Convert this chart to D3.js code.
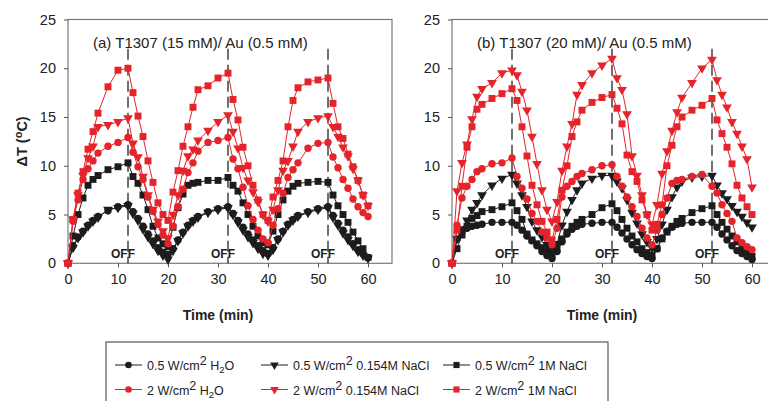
<!DOCTYPE html>
<html>
<head>
<meta charset="utf-8">
<script src="https://cdn.jsdelivr.net/npm/d3@7"></script>
<style>
body { margin: 0; background: #fff; }
text { font-family: "Liberation Sans", Arial, sans-serif; fill: #222; }
</style>
</head>
<body>
<svg id="chart" width="768" height="401"></svg>
<script>
// sampling times (min), shared by every series
var time = [0, 1, 2, 3, 4, 5, 6, 8, 10, 12, 13, 14, 15, 16, 17, 18, 19, 20,
  21, 22, 23, 24, 25, 26, 28, 30, 32, 33, 34, 35, 36, 37, 38, 39, 40,
  41, 42, 43, 44, 45, 46, 48, 50, 52, 53, 54, 55, 56, 57, 58, 59, 60];

var xTicks = [0, 10, 20, 30, 40, 50, 60];
var yTicks = [0, 5, 10, 15, 20, 25];
var offTimes = [12, 32, 52];

// panel (a) T1307 (15 mM)/ Au (0.5 mM)
var a_05_h2o = [0,
  1.8, 2.7, 3.3, 3.9, 4.4, 4.8, 5.4, 5.8, 6.0,
  5.3, 4.6, 3.8, 3.0, 2.3, 1.6, 1.1, 0.9,
  1.5, 2.4, 3.2, 3.9, 4.4, 4.8, 5.3, 5.6, 5.8,
  5.1, 4.4, 3.7, 3.0, 2.4, 1.8, 1.3, 1.0,
  1.6, 2.5, 3.3, 4.0, 4.5, 4.9, 5.3, 5.6, 5.8,
  4.9, 4.1, 3.4, 2.7, 2.0, 1.4, 1.0, 0.6];
var a_05_154 = [0,
  1.6, 2.6, 3.2, 3.8, 4.3, 4.7, 5.5, 5.7, 5.9,
  5.1, 4.4, 3.5, 2.7, 2.0, 1.3, 0.8, 0.4,
  1.3, 2.3, 3.1, 3.8, 4.3, 4.7, 5.2, 5.5, 5.7,
  5.0, 4.2, 3.4, 2.7, 2.1, 1.5, 1.0, 0.8,
  1.4, 2.4, 3.2, 3.9, 4.4, 4.8, 5.2, 5.5, 5.7,
  4.7, 3.9, 3.1, 2.4, 1.8, 1.2, 0.8, 0.5];
var a_05_1m = [0,
  2.8, 5.0, 6.7, 8.0, 8.6, 9.0, 9.6, 9.9, 10.3,
  8.9, 8.2, 7.0, 5.5, 3.8, 2.6, 2.0, 1.7,
  3.7, 5.7, 7.1, 8.0, 8.2, 8.3, 8.5, 8.5, 8.8,
  8.0, 7.4, 6.2, 5.0, 3.8, 2.8, 2.1, 1.9,
  3.3, 5.0, 6.5, 7.4, 7.9, 8.2, 8.3, 8.4, 8.3,
  7.0, 5.9, 5.0, 4.2, 3.2, 2.3, 1.5, 0.6];
var a_2_h2o = [0,
  4.3, 6.5, 8.6, 9.7, 10.5, 11.3, 12.0, 12.4, 12.9,
  11.4, 9.9, 8.6, 6.8, 5.3, 4.0, 2.9, 2.0,
  3.8, 5.8, 7.6, 9.3, 10.3, 11.5, 12.4, 12.6, 12.9,
  10.7, 9.7, 7.8, 5.9, 4.5, 3.4, 2.5, 2.1,
  3.9, 5.6, 7.2, 8.8, 9.6, 10.3, 11.8, 12.3, 12.4,
  10.9, 9.8, 8.6, 7.7, 6.6, 5.8, 5.2, 4.8];
var a_2_154 = [0,
  4.5, 7.0, 9.0, 10.8, 12.0, 14.0, 14.2, 14.5, 14.9,
  12.3, 10.9, 8.9, 7.0, 5.5, 4.3, 3.3, 2.6,
  5.0, 7.0, 9.5, 11.0, 11.7, 12.6, 13.6, 14.5, 15.2,
  13.5, 11.8, 9.8, 8.5, 7.3, 6.3, 5.0, 4.3,
  5.5, 7.5, 9.5, 10.5, 12.0, 13.5, 14.5, 14.9, 15.1,
  14.0, 13.0, 11.9, 11.0, 9.7, 8.5, 7.0, 5.9];
var a_2_1m = [0,
  4.5, 7.2, 9.4, 11.7, 13.5, 15.4, 18.1, 19.8, 20.0,
  17.5, 15.1, 13.0, 10.5, 8.3, 6.2, 5.0, 4.4,
  7.3, 9.5, 12.0, 14.0, 16.0, 17.8, 18.2, 19.0, 19.5,
  16.8, 14.7, 11.9, 10.0, 8.0, 6.5, 5.0, 4.4,
  6.8, 8.5, 10.5, 14.0, 16.7, 18.0, 18.6, 18.8, 19.0,
  16.4, 14.0, 12.8, 11.2, 9.9, 8.5, 7.0, 5.9];

// panel (b) T1307 (20 mM)/ Au (0.5 mM)
var b_05_h2o = [0,
  2.5, 3.2, 3.6, 3.8, 3.9, 4.0, 4.2, 4.2, 4.2,
  3.9, 3.4, 2.8, 2.3, 1.8, 1.2, 0.8, 0.5,
  1.2, 2.2, 3.0, 3.5, 3.8, 4.0, 4.1, 4.2, 4.2,
  3.7, 3.1, 2.5, 1.9, 1.4, 1.0, 0.7, 0.5,
  1.5, 2.6, 3.3, 3.7, 4.0, 4.1, 4.2, 4.2, 4.2,
  3.7, 3.0, 2.4, 1.8, 1.3, 1.0, 0.7, 0.4];
var b_05_154 = [0,
  2.5, 3.5, 4.4, 5.5, 6.2, 7.0, 8.0, 8.7, 9.1,
  8.2, 7.0, 5.8, 4.3, 3.4, 2.7, 1.9, 1.4,
  2.0, 3.9, 5.3, 6.5, 7.5, 8.2, 8.7, 9.0, 9.0,
  8.4, 7.7, 6.5, 5.2, 4.1, 3.0, 2.2, 1.6,
  2.5, 4.0, 5.5, 6.8, 7.8, 8.4, 8.8, 8.9, 9.0,
  8.0, 7.2, 6.6, 5.9, 5.3, 4.8, 4.2, 3.7];
var b_05_1m = [0,
  1.5, 2.9, 3.8, 4.6, 4.9, 5.3, 5.5, 5.8, 6.2,
  5.4, 4.5, 3.0, 2.4, 2.0, 1.6, 1.2, 0.9,
  1.5, 2.5, 3.2, 3.8, 4.2, 4.5, 5.0, 5.7, 6.1,
  5.4, 4.5, 3.6, 2.8, 2.2, 1.5, 1.1, 0.8,
  1.5, 2.5, 3.2, 3.8, 4.3, 4.6, 5.2, 5.6, 5.9,
  5.0, 4.2, 3.5, 2.8, 2.2, 1.6, 1.1, 0.7];
var b_2_h2o = [0,
  3.9, 6.7, 7.9, 8.6, 9.4, 9.7, 10.2, 10.3, 10.8,
  8.9, 7.7, 6.6, 5.1, 4.3, 3.2, 2.6, 1.9,
  3.6, 6.8, 7.9, 8.4, 8.9, 9.2, 9.6, 10.0, 10.1,
  8.9, 7.9, 6.8, 5.8, 4.8, 3.6, 2.6, 1.9,
  3.4, 5.0, 6.7, 8.2, 8.5, 8.6, 8.9, 9.1, 7.9,
  7.2, 6.0, 5.1, 4.3, 2.6, 2.1, 1.7, 1.4];
var b_2_154 = [0,
  7.4, 10.3, 12.2, 14.8, 17.1, 17.9, 18.5, 19.5, 19.8,
  19.3, 17.6, 15.7, 13.0, 10.2, 7.5, 5.5, 4.3,
  6.3, 9.5, 12.0, 14.3, 17.3, 18.3, 19.5, 20.3, 21.0,
  19.0, 17.8, 15.3, 11.0, 9.0, 7.0, 5.0, 4.0,
  6.0, 9.2, 11.5, 13.6, 15.5, 17.0, 18.5, 20.0, 20.9,
  18.8, 17.3, 16.0, 14.5, 13.3, 12.0, 10.7, 7.8];
var b_2_1m = [0,
  3.4, 7.9, 11.9, 14.0, 15.8, 16.3, 16.9, 17.4, 17.9,
  16.7, 14.0, 11.0, 8.0, 6.0, 4.3, 3.2, 2.4,
  4.5, 7.5, 10.0, 13.0, 14.5, 15.7, 16.5, 17.0, 17.3,
  15.9, 14.3, 11.1, 9.4, 8.4, 6.5, 5.0, 3.4,
  4.0, 6.0, 10.0, 12.1, 14.0, 15.0, 15.7, 16.2, 16.9,
  14.7, 13.3, 11.9, 10.2, 8.0, 6.7, 5.8, 5.0];

var red = "#e5232a", black = "#1c1c1c";

// series styles (black first so the red ones lie on top)
var styles = [
  {shape: "circle", color: black},
  {shape: "tri", color: black},
  {shape: "square", color: black},
  {shape: "circle", color: red},
  {shape: "tri", color: red},
  {shape: "square", color: red}
];

var panels = [
  {x0: 68, title: "(a) T1307 (15 mM)/ Au (0.5 mM)",
   data: [a_05_h2o, a_05_154, a_05_1m, a_2_h2o, a_2_154, a_2_1m]},
  {x0: 452, title: "(b) T1307 (20 mM)/ Au (0.5 mM)",
   data: [b_05_h2o, b_05_154, b_05_1m, b_2_h2o, b_2_154, b_2_1m]}
];

var svg = d3.select("#chart");
var plotTop = 19.5, plotBottom = 263.3, frameW = 324;

var y = d3.scaleLinear().domain([0, 25]).range([plotBottom, plotTop]);

function symbolPath(shape, size) {
  if (shape == "circle") return d3.symbol().type(d3.symbolCircle).size(size * 0.9)();
  if (shape == "square") return d3.symbol().type(d3.symbolSquare).size(size)();
  return d3.symbol().type(d3.symbolTriangle).size(size * 0.85)();
}
function symbolTransform(shape, px, py) {
  return "translate(" + px + "," + py + ")" + (shape == "tri" ? " rotate(180)" : "");
}

panels.forEach(function(p) {
  var x = d3.scaleLinear().domain([0, 60]).range([p.x0, p.x0 + 300]);
  var g = svg.append("g");

  // frame
  g.append("rect")
    .attr("x", p.x0).attr("y", plotTop)
    .attr("width", frameW).attr("height", plotBottom - plotTop)
    .attr("fill", "none").attr("stroke", "#7a7a7a").attr("stroke-width", 1.2);

  // axes
  var ax = g.append("g").attr("transform", "translate(0," + plotBottom + ")")
    .call(d3.axisBottom(x).tickValues(xTicks).tickSize(4).tickSizeOuter(0).tickPadding(6));
  var ay = g.append("g").attr("transform", "translate(" + p.x0 + ",0)")
    .call(d3.axisLeft(y).tickValues(yTicks).tickSize(4).tickSizeOuter(0).tickPadding(8));
  [ax, ay].forEach(function(a) {
    a.select(".domain").remove();
    a.selectAll(".tick line").attr("stroke", "#555");
    a.selectAll(".tick text").attr("font-size", 14.5).attr("fill", "#222")
      .style("font-family", "'Liberation Sans', Arial, sans-serif");
  });

  // laser-off markers
  g.selectAll(".off").data(offTimes).enter().append("line")
    .attr("x1", function(d) { return x(d); }).attr("x2", function(d) { return x(d); })
    .attr("y1", y(22)).attr("y2", plotBottom)
    .attr("stroke", "#111").attr("stroke-width", 1.2)
    .attr("stroke-dasharray", "11,5");
  g.selectAll(".offtxt").data(offTimes).enter().append("text")
    .attr("x", function(d) { return x(d - 1); }).attr("y", plotBottom - 5)
    .attr("text-anchor", "middle").attr("font-size", 12).attr("font-weight", "bold")
    .text("OFF");

  // title
  g.append("text").attr("x", p.x0 + 25).attr("y", 48)
    .attr("font-size", 15).text(p.title);

  // series
  p.data.forEach(function(vals, i) {
    var st = styles[i];
    var pts = time.map(function(t, k) { return [t, vals[k]]; });
    g.append("path").datum(pts)
      .attr("fill", "none").attr("stroke", st.color).attr("stroke-width", 1)
      .attr("d", d3.line().x(function(d) { return x(d[0]); }).y(function(d) { return y(d[1]); }));
    g.selectAll(".m" + i).data(pts).enter().append("path")
      .attr("d", symbolPath(st.shape, 48))
      .attr("transform", function(d) { return symbolTransform(st.shape, x(d[0]), y(d[1])); })
      .attr("fill", st.color);
  });

  // x label
  g.append("text").attr("x", x(30)).attr("y", 320)
    .attr("text-anchor", "middle").attr("font-size", 14).attr("font-weight", "bold")
    .text("Time (min)");
});

// y label
var yl = svg.append("text")
  .attr("transform", "translate(27," + ((plotTop + plotBottom) / 2) + ") rotate(-90)")
  .attr("text-anchor", "middle").attr("font-size", 14.5).attr("font-weight", "bold");
yl.append("tspan").text("\u0394T (");
yl.append("tspan").attr("dy", -5).attr("font-size", 11).text("o");
yl.append("tspan").attr("dy", 5).text("C)");

// legend
var legendItems = [
  {power: "0.5", medium: "H2O", style: 0},
  {power: "0.5", medium: "0.154M NaCl", style: 1},
  {power: "0.5", medium: "1M NaCl", style: 2},
  {power: "2", medium: "H2O", style: 3},
  {power: "2", medium: "0.154M NaCl", style: 4},
  {power: "2", medium: "1M NaCl", style: 5}
];
var legCols = [115, 261, 443], legRows = [365, 389.5];

svg.append("rect").attr("x", 106).attr("y", 342).attr("width", 502).attr("height", 80)
  .attr("fill", "none").attr("stroke", "#555").attr("stroke-width", 1.2);

legendItems.forEach(function(it, i) {
  var cx = legCols[i % 3], cy = legRows[Math.floor(i / 3)];
  var st = styles[it.style];
  svg.append("line").attr("x1", cx).attr("x2", cx + 27).attr("y1", cy).attr("y2", cy)
    .attr("stroke", st.color).attr("stroke-width", 1);
  svg.append("path").attr("d", symbolPath(st.shape, 38))
    .attr("transform", symbolTransform(st.shape, cx + 13.5, cy)).attr("fill", st.color);
  var t = svg.append("text").attr("x", cx + 32).attr("y", cy + 5).attr("font-size", 12.5);
  t.append("tspan").text(it.power + " W/cm");
  t.append("tspan").attr("dy", -5).text("2");
  if (it.medium == "H2O") {
    t.append("tspan").attr("dy", 5).text(" H");
    t.append("tspan").attr("dy", 3).attr("font-size", 9.5).text("2");
    t.append("tspan").attr("dy", -3).text("O");
  } else {
    t.append("tspan").attr("dy", 5).text(" " + it.medium);
  }
});
</script>
</body>
</html>
